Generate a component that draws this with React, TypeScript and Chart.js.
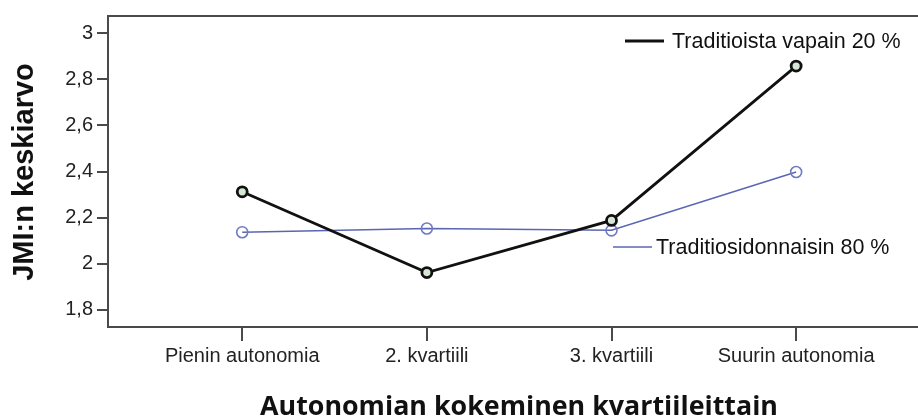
import React, { useEffect, useRef } from "react";
import { Chart, registerables } from "chart.js";

Chart.register(...registerables);

const categories = ["Pienin autonomia", "2. kvartiili", "3. kvartiili", "Suurin autonomia"];
const seriesNames = ["Traditioista vapain 20 %", "Traditiosidonnaisin 80 %"];
const vapainValues = [2.312, 1.962, 2.188, 2.857];
const sidonnaisinValues = [2.137, 2.153, 2.145, 2.398];
const yTicks = [1.8, 2, 2.2, 2.4, 2.6, 2.8, 3];
const yTitle = "JMI:n keskiarvo";
const xTitle = "Autonomian kokeminen kvartiileittain";

const BLACK = "#111111";
const BLUE = "#5a66b2";
const BLUE_PT = "#6f7cc2";
const FRAME = "#4a4a4a";
const SANS = "'Liberation Sans', Arial, sans-serif";

export default function App() {
  const ref = useRef<HTMLCanvasElement | null>(null);

  useEffect(() => {
    if (!ref.current) return;
    const framePlugin = {
      id: "frameAndLabels",
      afterDraw(chart: any) {
        const { ctx, chartArea } = chart;
        const W = chart.width;
        ctx.save();
        ctx.strokeStyle = FRAME;
        ctx.lineWidth = 2;
        ctx.beginPath();
        ctx.moveTo(chartArea.left, chartArea.top);
        ctx.lineTo(W, chartArea.top);
        ctx.moveTo(chartArea.left, chartArea.bottom);
        ctx.lineTo(W, chartArea.bottom);
        ctx.stroke();
        // series labels
        ctx.font = `21.5px ${SANS}`;
        ctx.textBaseline = "middle";
        ctx.fillStyle = "#111";
        ctx.strokeStyle = BLACK;
        ctx.lineWidth = 2.8;
        ctx.beginPath();
        ctx.moveTo(625, 41);
        ctx.lineTo(664, 41);
        ctx.stroke();
        ctx.fillText(seriesNames[0], 672, 42);
        ctx.strokeStyle = BLUE;
        ctx.lineWidth = 1.5;
        ctx.beginPath();
        ctx.moveTo(613, 247);
        ctx.lineTo(652, 247);
        ctx.stroke();
        ctx.fillText(seriesNames[1], 656, 248);
        // y title
        ctx.font = `bold 29px ${SANS}`;
        ctx.textAlign = "center";
        ctx.textBaseline = "alphabetic";
        ctx.translate(33, 172);
        ctx.rotate(-Math.PI / 2);
        ctx.fillText(yTitle, 0, 0, 220);
        ctx.restore();
        ctx.save();
        ctx.font = "bold 27px 'Open Sans', Lato, sans-serif";
        ctx.textAlign = "center";
        ctx.textBaseline = "alphabetic";
        ctx.fillStyle = "#111";
        ctx.fillText(xTitle, 519, 415, 518);
        ctx.restore();
      },
    };

    const chart = new Chart(ref.current, {
      type: "line",
      data: {
        datasets: [
          {
            label: seriesNames[0],
            data: vapainValues.map((v, i) => ({ x: i, y: v })),
            borderColor: BLACK,
            borderWidth: 2.8,
            pointRadius: 5,
            pointBorderWidth: 2.8,
            pointBorderColor: BLACK,
            pointBackgroundColor: "#d5e6d5",
            tension: 0,
          },
          {
            label: seriesNames[1],
            data: sidonnaisinValues.map((v, i) => ({ x: i, y: v })),
            borderColor: BLUE,
            borderWidth: 1.5,
            pointRadius: 5.5,
            pointBorderWidth: 1.6,
            pointBorderColor: BLUE_PT,
            pointBackgroundColor: "rgba(255,255,255,0)",
            tension: 0,
          },
        ],
      },
      options: {
        responsive: false,
        animation: false,
        layout: { autoPadding: false, padding: { top: 16, right: 0, left: 0, bottom: 0 } },
        plugins: { legend: { display: false }, tooltip: { enabled: false } },
        scales: {
          x: {
            type: "linear",
            min: -0.727,
            max: 3.66,
            afterBuildTicks: (axis: any) => {
              axis.ticks = categories.map((_, i) => ({ value: i }));
            },
            afterFit: (axis: any) => {
              axis.height = 91;
              axis.paddingLeft = 0;
              axis.paddingRight = 0;
            },
            ticks: {
              callback: (v: any) => categories[v as number] ?? "",
              font: { family: SANS, size: 20 },
              color: "#222",
              padding: 3,
              maxRotation: 0,
              autoSkip: false,
            },
            grid: {
              drawOnChartArea: false,
              drawTicks: true,
              tickLength: 14,
              color: FRAME,
              lineWidth: 2,
            },
            border: { display: true, color: FRAME, width: 2 },
          },
          y: {
            type: "linear",
            min: 1.726,
            max: 3.074,
            afterBuildTicks: (axis: any) => {
              axis.ticks = yTicks.map((v) => ({ value: v }));
            },
            afterFit: (axis: any) => {
              axis.width = 108;
              axis.paddingTop = 0;
              axis.paddingBottom = 0;
            },
            ticks: {
              callback: (v: any) => String(v).replace(".", ","),
              font: { family: SANS, size: 20 },
              color: "#222",
              padding: 4,
            },
            grid: {
              drawOnChartArea: false,
              drawTicks: true,
              tickLength: 11,
              color: FRAME,
              lineWidth: 2,
            },
            border: { display: true, color: FRAME, width: 2 },
          },
        },
      },
      plugins: [framePlugin],
    } as any);
    return () => chart.destroy();
  }, []);

  return (
    <div style={{ position: "fixed", left: 0, top: 0, width: 918, height: 418, background: "#fff" }}>
      <canvas ref={ref} width={918} height={418} style={{ width: 918, height: 418, display: "block" }} />
    </div>
  );
}
